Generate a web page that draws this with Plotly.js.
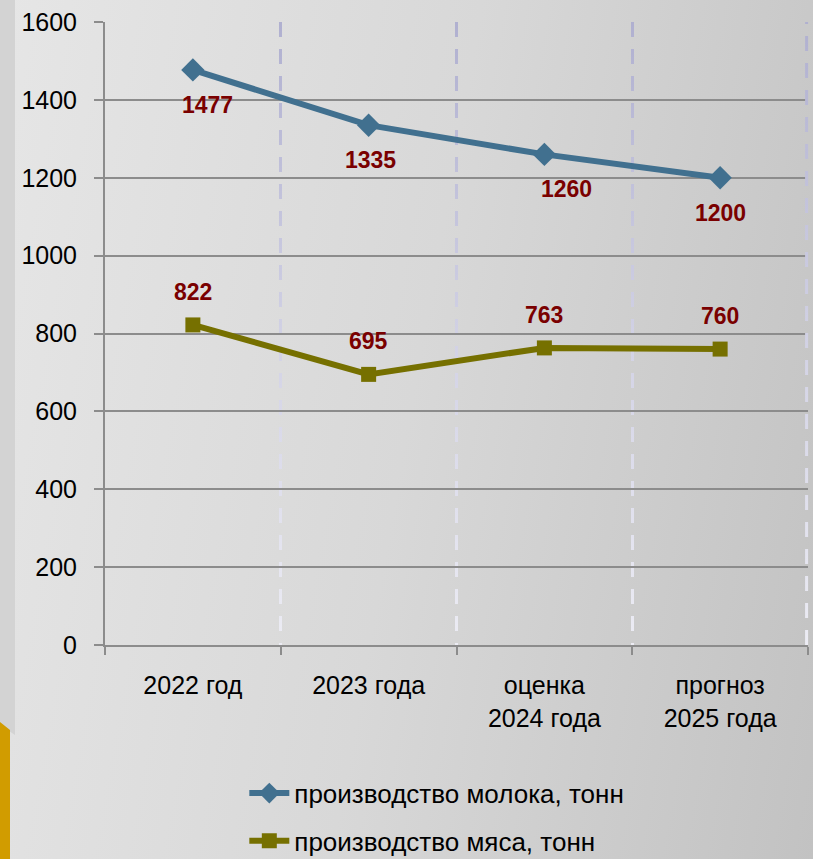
<!DOCTYPE html>
<html><head><meta charset="utf-8">
<script src="https://cdn.plot.ly/plotly-3.0.1.min.js"></script>
<style>
html,body{margin:0;padding:0;width:813px;height:859px;overflow:hidden;}
body{background:linear-gradient(100deg,#e6e6e6 0%,#d8d8d8 50%,#c2c2c2 100%);position:relative;}
#strip{position:absolute;left:0;top:0;width:15px;height:735px;background:#d3d3d3;clip-path:polygon(0 0,100% 0,100% 100%,0 calc(100% - 10px));}
#gold{position:absolute;left:0;top:722px;width:10px;height:137px;background:#d19c00;clip-path:polygon(0 0,100% 8px,100% 100%,0 100%);}
#chart{position:absolute;left:0;top:0;width:813px;height:859px;}
</style></head>
<body>
<div id="strip"></div><div id="gold"></div>
<div id="chart"></div>
<script>
const categories = ["2022 год", "2023 года", "оценка<br>2024 года", "прогноз<br>2025 года"];
const milkName = "производство молока, тонн";
const meatName = "производство мяса, тонн";
const milk = [1477, 1335, 1260, 1200];
const meat = [822, 695, 763, 760];
const yTicks = [0, 200, 400, 600, 800, 1000, 1200, 1400, 1600];

// label nudges (styling only)
const milkLabelDx = [15, 2, 22, 0];
const meatLabelDx = [0, 0, 0, 0];

const F = '"Liberation Sans", Arial, sans-serif';
const labelFont = {family: F, size: 23, color: '#7a0000', weight: 'bold'};

const traces = [
  {x: categories, y: milk, name: milkName, legendgroup: 'a', type: 'scatter', mode: 'lines+markers',
   line: {color: '#41708f', width: 6}, marker: {symbol: 'diamond', size: 18, color: '#41708f'}, cliponaxis: false},
  {x: categories, y: meat, name: meatName, legendgroup: 'b', type: 'scatter', mode: 'lines+markers',
   line: {color: '#767000', width: 6}, marker: {symbol: 'square', size: 15, color: '#767000'}, cliponaxis: false}
];

const annotations = [];
categories.forEach((c, i) => {
  annotations.push({x: c, y: milk[i], text: String(milk[i]), showarrow: false, font: labelFont,
                    xshift: milkLabelDx[i], yshift: -35});
  annotations.push({x: c, y: meat[i], text: String(meat[i]), showarrow: false, font: labelFont,
                    xshift: meatLabelDx[i], yshift: 33});
});

const layout = {
  width: 813, height: 859,
  paper_bgcolor: 'rgba(0,0,0,0)', plot_bgcolor: 'rgba(0,0,0,0)',
  margin: {l: 105, r: 5, t: 22, b: 214, autoexpand: false},
  font: {family: F, size: 26, color: '#000'},
  showlegend: true,
  annotations: annotations,
  shapes: [{type: 'line', xref: 'paper', yref: 'paper', x0: 0.998, x1: 0.998, y0: 0, y1: 1,
            line: {color: '#c4c4dc', width: 3, dash: '15px,12px'}}],
  legend: {orientation: 'v', x: 0.472, xanchor: 'center', yref: 'container', y: 0.104, yanchor: 'top',
           font: {family: F, size: 26, color: '#000'}, itemwidth: 40, tracegroupgap: 11,
           bgcolor: 'rgba(0,0,0,0)'},
  xaxis: {type: 'category', range: [-0.5, 3.5], tickson: 'boundaries', showgrid: true, gridcolor: '#c4c4dc', gridwidth: 3,
          griddash: '15px,12px', showline: true, linecolor: '#8c8c8c', linewidth: 2,
          ticks: 'outside', ticklen: 8, tickcolor: '#8c8c8c', tickwidth: 2, ticklabelstandoff: 17,
          tickfont: {family: F, size: 25, color: '#000'}, fixedrange: true, automargin: false},
  yaxis: {range: [0, 1600], tickvals: yTicks, ticktext: yTicks.map(String), showgrid: true,
          gridcolor: '#8c8c8c', gridwidth: 2, showline: true, linecolor: '#8c8c8c', linewidth: 2,
          ticks: 'outside', ticklen: 9, tickcolor: '#8c8c8c', tickwidth: 2, zeroline: false,
          tickfont: {family: F, size: 25, color: '#000'}, ticklabelstandoff: 12, fixedrange: true, automargin: false}
};

Plotly.newPlot('chart', traces, layout, {displayModeBar: false, staticPlot: true}).then(gd => {
  // vertical fading of the dashed gridlines (lavender at top, pale at bottom)
  const svg = gd.querySelector('.main-svg');
  const ns = 'http://www.w3.org/2000/svg';
  let defs = svg.querySelector('defs');
  if (!defs) { defs = document.createElementNS(ns, 'defs'); svg.insertBefore(defs, svg.firstChild); }
  const paths = [...gd.querySelectorAll('.xgrid'), ...gd.querySelectorAll('.shapelayer path')];
  paths.forEach((p, k) => {
    const bb = p.getBBox();
    const g = document.createElementNS(ns, 'linearGradient');
    g.setAttribute('id', 'gg' + k);
    g.setAttribute('gradientUnits', 'userSpaceOnUse');
    g.setAttribute('x1', bb.x); g.setAttribute('x2', bb.x);
    g.setAttribute('y1', bb.y); g.setAttribute('y2', bb.y + bb.height);
    [['0', '#b0b0d0'], ['0.55', '#d4d4e6'], ['1', '#ececf4']].forEach(([o, c]) => {
      const s = document.createElementNS(ns, 'stop');
      s.setAttribute('offset', o); s.setAttribute('stop-color', c); g.appendChild(s);
    });
    defs.appendChild(g);
    p.style.stroke = 'url(#gg' + k + ')';
  });
});
</script>
</body></html>
